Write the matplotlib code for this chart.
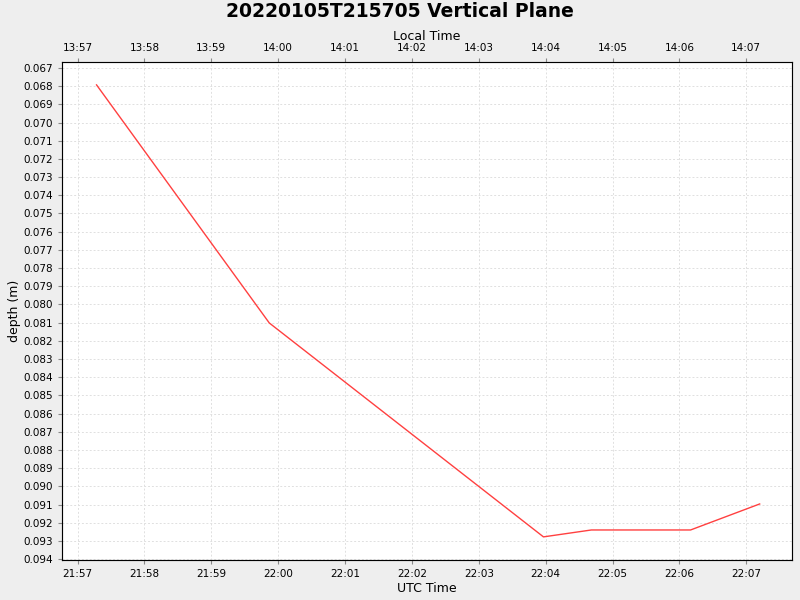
import matplotlib
matplotlib.use("Agg")
import matplotlib.pyplot as plt
from matplotlib.ticker import FuncFormatter, MultipleLocator

utc_times = ["21:57:17", "21:59:52", "22:03:58", "22:04:41", "22:06:10", "22:07:12"]
depths = [0.06793, 0.08102, 0.09278, 0.09240, 0.09240, 0.09097]
local_offset_hours = -8

def to_min(s):
    h, m, sec = map(int, s.split(":"))
    return h * 60 + m + sec / 60.0

x = [to_min(t) for t in utc_times]

fig = plt.figure(figsize=(8, 6), dpi=100, facecolor="#EEEEEE")
ax = fig.add_axes([0.0775, 0.0667, 0.9125, 0.83])
ax.set_facecolor("white")
ax.plot(x, depths, color="#FF4040", lw=1)
ax.set_xlim(to_min("21:56:46"), to_min("22:07:41"))
ax.set_ylim(0.09405, 0.06667)
ax.xaxis.set_major_locator(MultipleLocator(1))
fmt = lambda off: FuncFormatter(lambda v, p: "%02d:%02d" % ((int(round(v)) // 60 + off) % 24, int(round(v)) % 60))
ax.xaxis.set_major_formatter(fmt(0))
ax.yaxis.set_major_locator(MultipleLocator(0.001))
ax.yaxis.set_major_formatter(FuncFormatter(lambda v, p: "%.3f" % v))
ax.grid(True, color="#E0E0E0", ls=(0, (2, 2)), lw=0.7)
for sp in ax.spines.values():
    sp.set_color("#888888")
ax.tick_params(labelsize=7.5, length=3, color="#888888")
ax.set_xlabel("UTC Time", fontsize=9, labelpad=2)
ax.set_ylabel("depth (m)", fontsize=9, labelpad=2)
ax2 = ax.twiny()
ax2.set_xlim(ax.get_xlim())
ax2.xaxis.set_major_locator(MultipleLocator(1))
ax2.xaxis.set_major_formatter(fmt(local_offset_hours))
ax2.tick_params(labelsize=7.5, length=3, color="#888888")
ax2.set_xlabel("Local Time", fontsize=9, labelpad=2)
fig.suptitle("20220105T215705 Vertical Plane", fontsize=13.5, fontweight="bold", y=0.997)
fig.savefig("out.png", dpi=100, facecolor=fig.get_facecolor())
